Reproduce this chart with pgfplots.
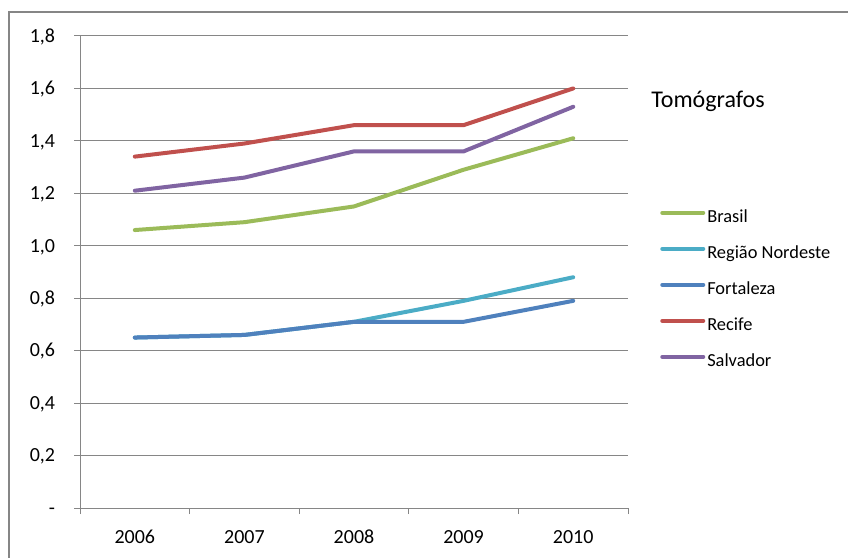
\documentclass[border=0pt]{standalone}
\usepackage{fontspec}
\setmainfont{Carlito}
\usepackage{pgfplots}
\pgfplotsset{compat=1.18}
\definecolor{axgray}{HTML}{868686}
\definecolor{cBrasil}{HTML}{9BBB59}
\definecolor{cNordeste}{HTML}{4BACC6}
\definecolor{cFortaleza}{HTML}{4F81BD}
\definecolor{cRecife}{HTML}{C0504D}
\definecolor{cSalvador}{HTML}{8064A2}
\begin{document}
\begin{tikzpicture}
\path[use as bounding box] (0pt,0pt) rectangle (636pt,417.75pt);
% moldura externa (so as bordas esquerda e superior aparecem)
\draw[axgray, line width=1.1pt] (6.75pt,-5pt) -- (6.75pt,408.75pt) -- (645pt,408.75pt);
\node[anchor=base west, inner sep=0pt, font=\fontsize{18}{18}\selectfont]
  at (488.25pt,336.75pt) {Tomógrafos};
\begin{axis}[
    at={(60pt,36.75pt)}, anchor=south west,
    scale only axis, width=411pt, height=354pt,
    xmin=0.5, xmax=5.5, ymin=0, ymax=1.8,
    axis lines=left,
    axis line style={-, draw=axgray, line width=0.75pt},
    tick align=outside,
    tick style={axgray, line width=0.75pt},
    major tick length=4.5pt,
    xtick={0.5,1.5,2.5,3.5,4.5,5.5},
    xticklabels={},
    extra x ticks={1,2,3,4,5},
    extra x tick labels={2006,2007,2008,2009,2010},
    extra x tick style={major tick length=0pt, grid=none},
    xticklabel style={anchor=base, inner sep=0pt, yshift=-26.25pt},
    ytick={0,0.2,0.4,0.6,0.8,1.0,1.2,1.4,1.6,1.8},
    yticklabels={-,{0,2},{0,4},{0,6},{0,8},{1,0},{1,2},{1,4},{1,6},{1,8}},
    yticklabel style={anchor=base east, inner sep=0pt, xshift=-14pt, yshift=-4.7pt},
    ymajorgrids,
    grid style={axgray, line width=0.75pt},
    tick label style={font=\fontsize{15}{15}\selectfont},
    every axis plot/.append style={line width=3pt, line cap=round, line join=round},
    legend style={draw=none, fill=none, at={(1.0584,0.6345)}, anchor=north west,
      inner sep=0pt, row sep=14pt, column sep=1.5pt,
      nodes={inner sep=0pt, font=\fontsize{13.8}{14}\selectfont, text height=10pt, text depth=3pt}},
    legend cell align=left,
    legend image code/.code={\draw[#1] (1.5pt,3.5pt) -- (32.25pt,3.5pt);},
]
\addplot[cBrasil] coordinates {(1,1.06) (2,1.09) (3,1.15) (4,1.29) (5,1.41)};
\addlegendentry{Brasil}
\addplot[cNordeste] coordinates {(1,0.65) (2,0.66) (3,0.71) (4,0.79) (5,0.88)};
\addlegendentry{Região Nordeste}
\addplot[cFortaleza] coordinates {(1,0.65) (2,0.66) (3,0.71) (4,0.71) (5,0.79)};
\addlegendentry{Fortaleza}
\addplot[cRecife] coordinates {(1,1.34) (2,1.39) (3,1.46) (4,1.46) (5,1.60)};
\addlegendentry{Recife}
\addplot[cSalvador] coordinates {(1,1.21) (2,1.26) (3,1.36) (4,1.36) (5,1.53)};
\addlegendentry{Salvador}
\end{axis}
\end{tikzpicture}
\end{document}
